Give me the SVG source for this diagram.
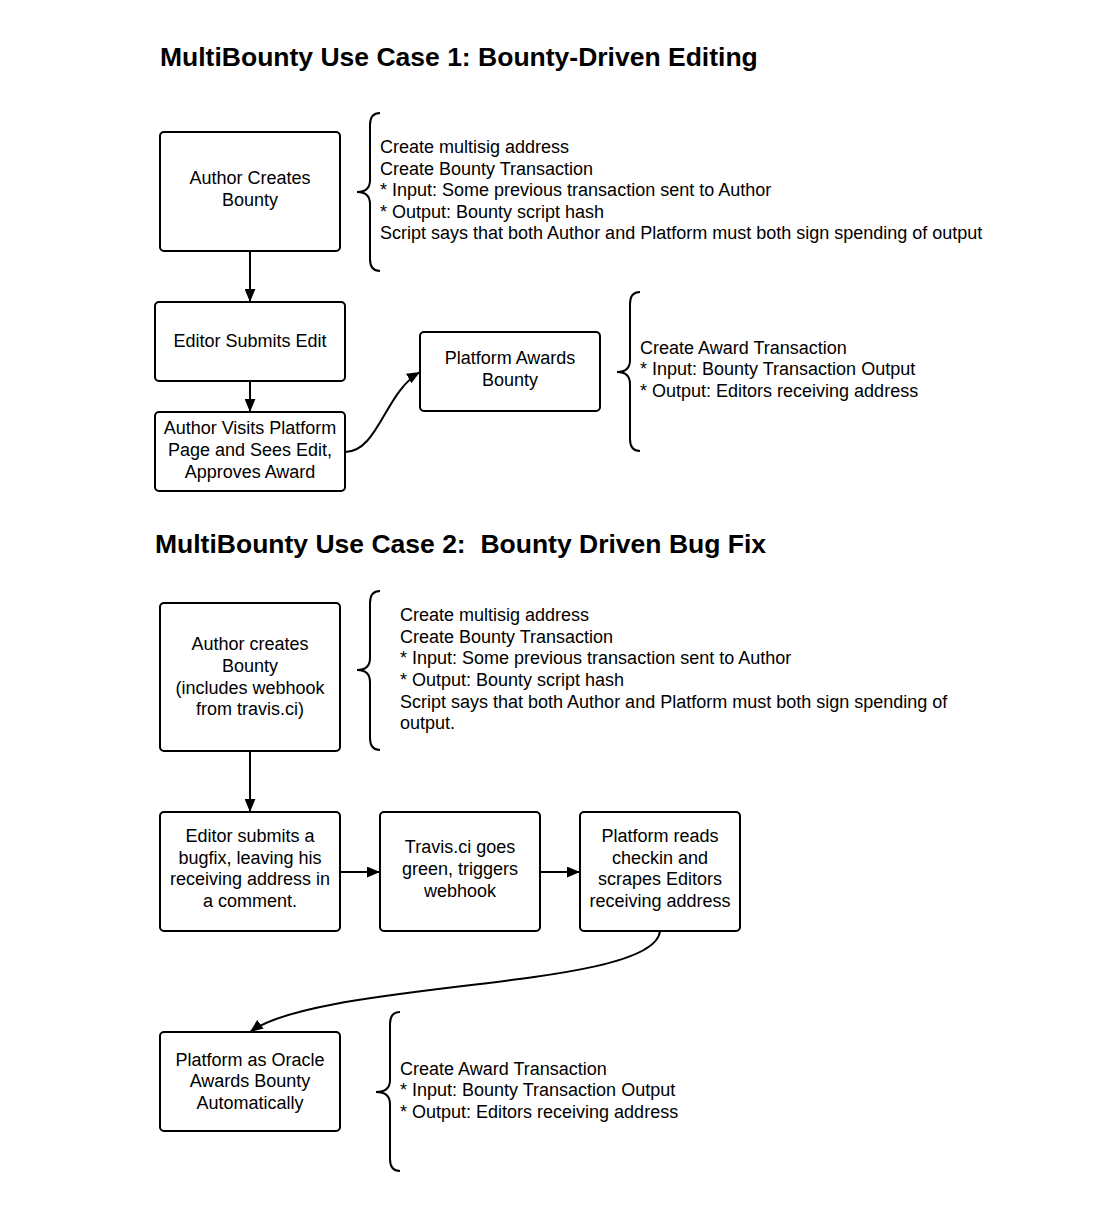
<svg xmlns="http://www.w3.org/2000/svg" width="1100" height="1212" viewBox="0 0 1100 1212">
<style>
.bg{fill:#fff}
.box{fill:#fff;stroke:#000;stroke-width:2}
.t{font-family:"Liberation Sans",Arial,sans-serif;font-size:18px;fill:#000}
.c{text-anchor:middle}
.title{font-family:"Liberation Sans",Arial,sans-serif;font-size:26.5px;font-weight:bold;fill:#000}
.edge{fill:none;stroke:#000;stroke-width:2}
.brace{fill:none;stroke:#000;stroke-width:2}
</style>
<defs>
<marker id="arr" viewBox="0 0 12 10" refX="12" refY="5" markerWidth="6.5" markerHeight="5.5" orient="auto" markerUnits="strokeWidth">
<path d="M0,0 L12,5 L0,10 z" fill="#000"/>
</marker>
</defs>
<rect class="bg" x="0" y="0" width="1100" height="1212"/>

<text class="title" x="160" y="66">MultiBounty Use Case 1: Bounty-Driven Editing</text>
<text class="title" x="155" y="553" xml:space="preserve">MultiBounty Use Case 2:  Bounty Driven Bug Fix</text>

<g id="connectors">
<path class="edge" d="M250,251 L250,302" marker-end="url(#arr)"/>
<path class="edge" d="M250,381 L250,412" marker-end="url(#arr)"/>
<path class="edge" d="M345,452 C378,452 385,392 420,372" marker-end="url(#arr)"/>
<path class="edge" d="M250,751 L250,812" marker-end="url(#arr)"/>
<path class="edge" d="M340,872 L380,872" marker-end="url(#arr)"/>
<path class="edge" d="M540,872 L580,872" marker-end="url(#arr)"/>
<path class="edge" d="M660,931 C655,990 320,980 250,1032" marker-end="url(#arr)"/>
</g>

<g id="n1">
<rect class="box" x="160" y="132" width="180" height="119" rx="4"/>
<text class="t c" x="250" y="184">Author Creates</text>
<text class="t c" x="250" y="206">Bounty</text>
</g>
<g id="note1">
<path class="brace" d="M380,113 Q370,113 370,125 L370,180 Q370,192 357,192 Q370,192 370,204 L370,259 Q370,271 380,271"/>
<text class="t" x="380" y="153">Create multisig address</text>
<text class="t" x="380" y="175">Create Bounty Transaction</text>
<text class="t" x="380" y="196">* Input: Some previous transaction sent to Author</text>
<text class="t" x="380" y="218">* Output: Bounty script hash</text>
<text class="t" x="380" y="239">Script says that both Author and Platform must both sign spending of output</text>
</g>
<g id="n2">
<rect class="box" x="155" y="302" width="190" height="79" rx="4"/>
<text class="t c" x="250" y="347">Editor Submits Edit</text>
</g>
<g id="n3">
<rect class="box" x="155" y="412" width="190" height="79" rx="4"/>
<text class="t c" x="250" y="434">Author Visits Platform</text>
<text class="t c" x="250" y="456">Page and Sees Edit,</text>
<text class="t c" x="250" y="478">Approves Award</text>
</g>
<g id="n4">
<rect class="box" x="420" y="332" width="180" height="79" rx="4"/>
<text class="t c" x="510" y="364">Platform Awards</text>
<text class="t c" x="510" y="386">Bounty</text>
</g>
<g id="note2">
<path class="brace" d="M640,292 Q630,292 630,304 L630,360 Q630,372 617,372 Q630,372 630,384 L630,439 Q630,451 640,451"/>
<text class="t" x="640" y="354">Create Award Transaction</text>
<text class="t" x="640" y="375">* Input: Bounty Transaction Output</text>
<text class="t" x="640" y="397">* Output: Editors receiving address</text>
</g>

<g id="n5">
<rect class="box" x="160" y="603" width="180" height="148" rx="4"/>
<text class="t c" x="250" y="650">Author creates</text>
<text class="t c" x="250" y="672">Bounty</text>
<text class="t c" x="250" y="694">(includes webhook</text>
<text class="t c" x="250" y="715">from travis.ci)</text>
</g>
<g id="note3">
<path class="brace" d="M380,591 Q370,591 370,603 L370,658 Q370,670 357,670 Q370,670 370,682 L370,738 Q370,750 380,750"/>
<text class="t" x="400" y="621">Create multisig address</text>
<text class="t" x="400" y="643">Create Bounty Transaction</text>
<text class="t" x="400" y="664">* Input: Some previous transaction sent to Author</text>
<text class="t" x="400" y="686">* Output: Bounty script hash</text>
<text class="t" x="400" y="708">Script says that both Author and Platform must both sign spending of</text>
<text class="t" x="400" y="729">output.</text>
</g>
<g id="n6">
<rect class="box" x="160" y="812" width="180" height="119" rx="4"/>
<text class="t c" x="250" y="842">Editor submits a</text>
<text class="t c" x="250" y="864">bugfix, leaving his</text>
<text class="t c" x="250" y="885">receiving address in</text>
<text class="t c" x="250" y="907">a comment.</text>
</g>
<g id="n7">
<rect class="box" x="380" y="812" width="160" height="119" rx="4"/>
<text class="t c" x="460" y="853">Travis.ci goes</text>
<text class="t c" x="460" y="875">green, triggers</text>
<text class="t c" x="460" y="897">webhook</text>
</g>
<g id="n8">
<rect class="box" x="580" y="812" width="160" height="119" rx="4"/>
<text class="t c" x="660" y="842">Platform reads</text>
<text class="t c" x="660" y="864">checkin and</text>
<text class="t c" x="660" y="885">scrapes Editors</text>
<text class="t c" x="660" y="907">receiving address</text>
</g>
<g id="n9">
<rect class="box" x="160" y="1032" width="180" height="99" rx="4"/>
<text class="t c" x="250" y="1066">Platform as Oracle</text>
<text class="t c" x="250" y="1087">Awards Bounty</text>
<text class="t c" x="250" y="1109">Automatically</text>
</g>
<g id="note4">
<path class="brace" d="M400,1012 Q390,1012 390,1024 L390,1080 Q390,1092 376,1092 Q390,1092 390,1104 L390,1159 Q390,1171 400,1171"/>
<text class="t" x="400" y="1075">Create Award Transaction</text>
<text class="t" x="400" y="1096">* Input: Bounty Transaction Output</text>
<text class="t" x="400" y="1118">* Output: Editors receiving address</text>
</g>
</svg>
